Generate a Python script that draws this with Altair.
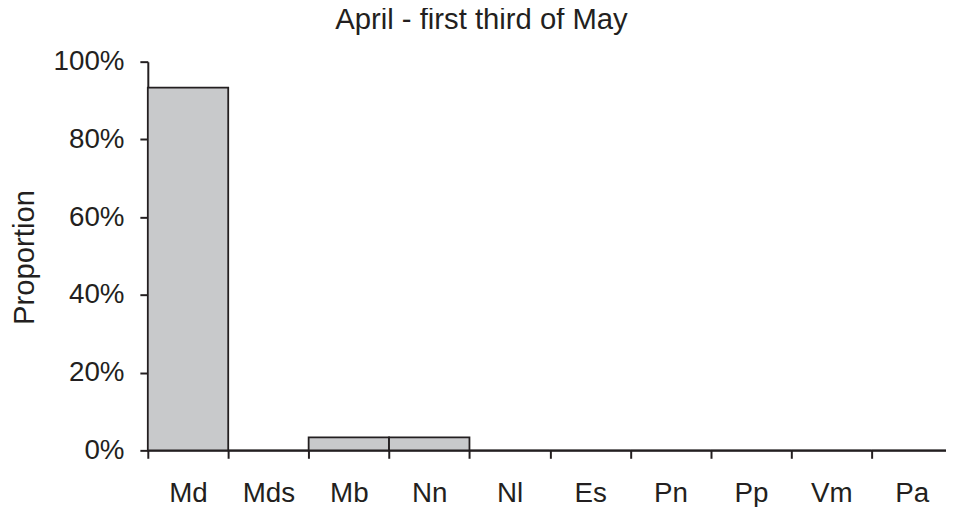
import altair as alt
import pandas as pd

categories = ["Md", "Mds", "Mb", "Nn", "Nl", "Es", "Pn", "Pp", "Vm", "Pa"]
proportions = [0.9333, 0.0, 0.0333, 0.0333, 0.0, 0.0, 0.0, 0.0, 0.0, 0.0]
y_ticks = [0, 0.2, 0.4, 0.6, 0.8, 1.0]

df = pd.DataFrame({"species": categories, "proportion": proportions})

ink = "#231f20"
font = "Liberation Sans"

chart = alt.Chart(df).mark_bar(
    fill="#c8c9cb", stroke=ink, strokeWidth=1.8
).encode(
    x=alt.X("species:N", sort=categories,
            scale=alt.Scale(range=[0, 811], paddingInner=0, paddingOuter=0),
            axis=alt.Axis(title=None, labelAngle=0, tickBand="extent",
                          domainColor=ink, domainWidth=2, tickColor=ink, tickWidth=2,
                          tickSize=8, labelFont=font, labelFontSize=28, labelColor=ink,
                          labelPadding=22, grid=False)),
    y=alt.Y("proportion:Q", scale=alt.Scale(domain=[0, 1], nice=False),
            axis=alt.Axis(title="Proportion", values=y_ticks, format=".0%",
                          domainColor=ink, domainWidth=2, tickColor=ink, tickWidth=2,
                          tickSize=8, labelFont=font, labelFontSize=28, labelColor=ink,
                          labelPadding=16, grid=False,
                          titleFont=font, titleFontSize=29.5, titleFontWeight="normal",
                          titleColor=ink, titleX=-115, titleY=197,
                          titleBaseline="alphabetic", titleAlign="center", titleAngle=270)),
).properties(
    width=805, height=392,
    title=alt.TitleParams("April - first third of May", font=font, fontSize=29.5,
                          fontWeight="normal", color=ink, anchor="middle",
                          dx=-66, offset=-11, baseline="alphabetic"),
    autosize=alt.AutoSizeParams(type="none"),
    padding={"left": 141, "top": 52, "right": 0, "bottom": 55},
).configure_view(stroke=None)

chart.save("out.html", embed_options={"renderer": "svg", "actions": False})
